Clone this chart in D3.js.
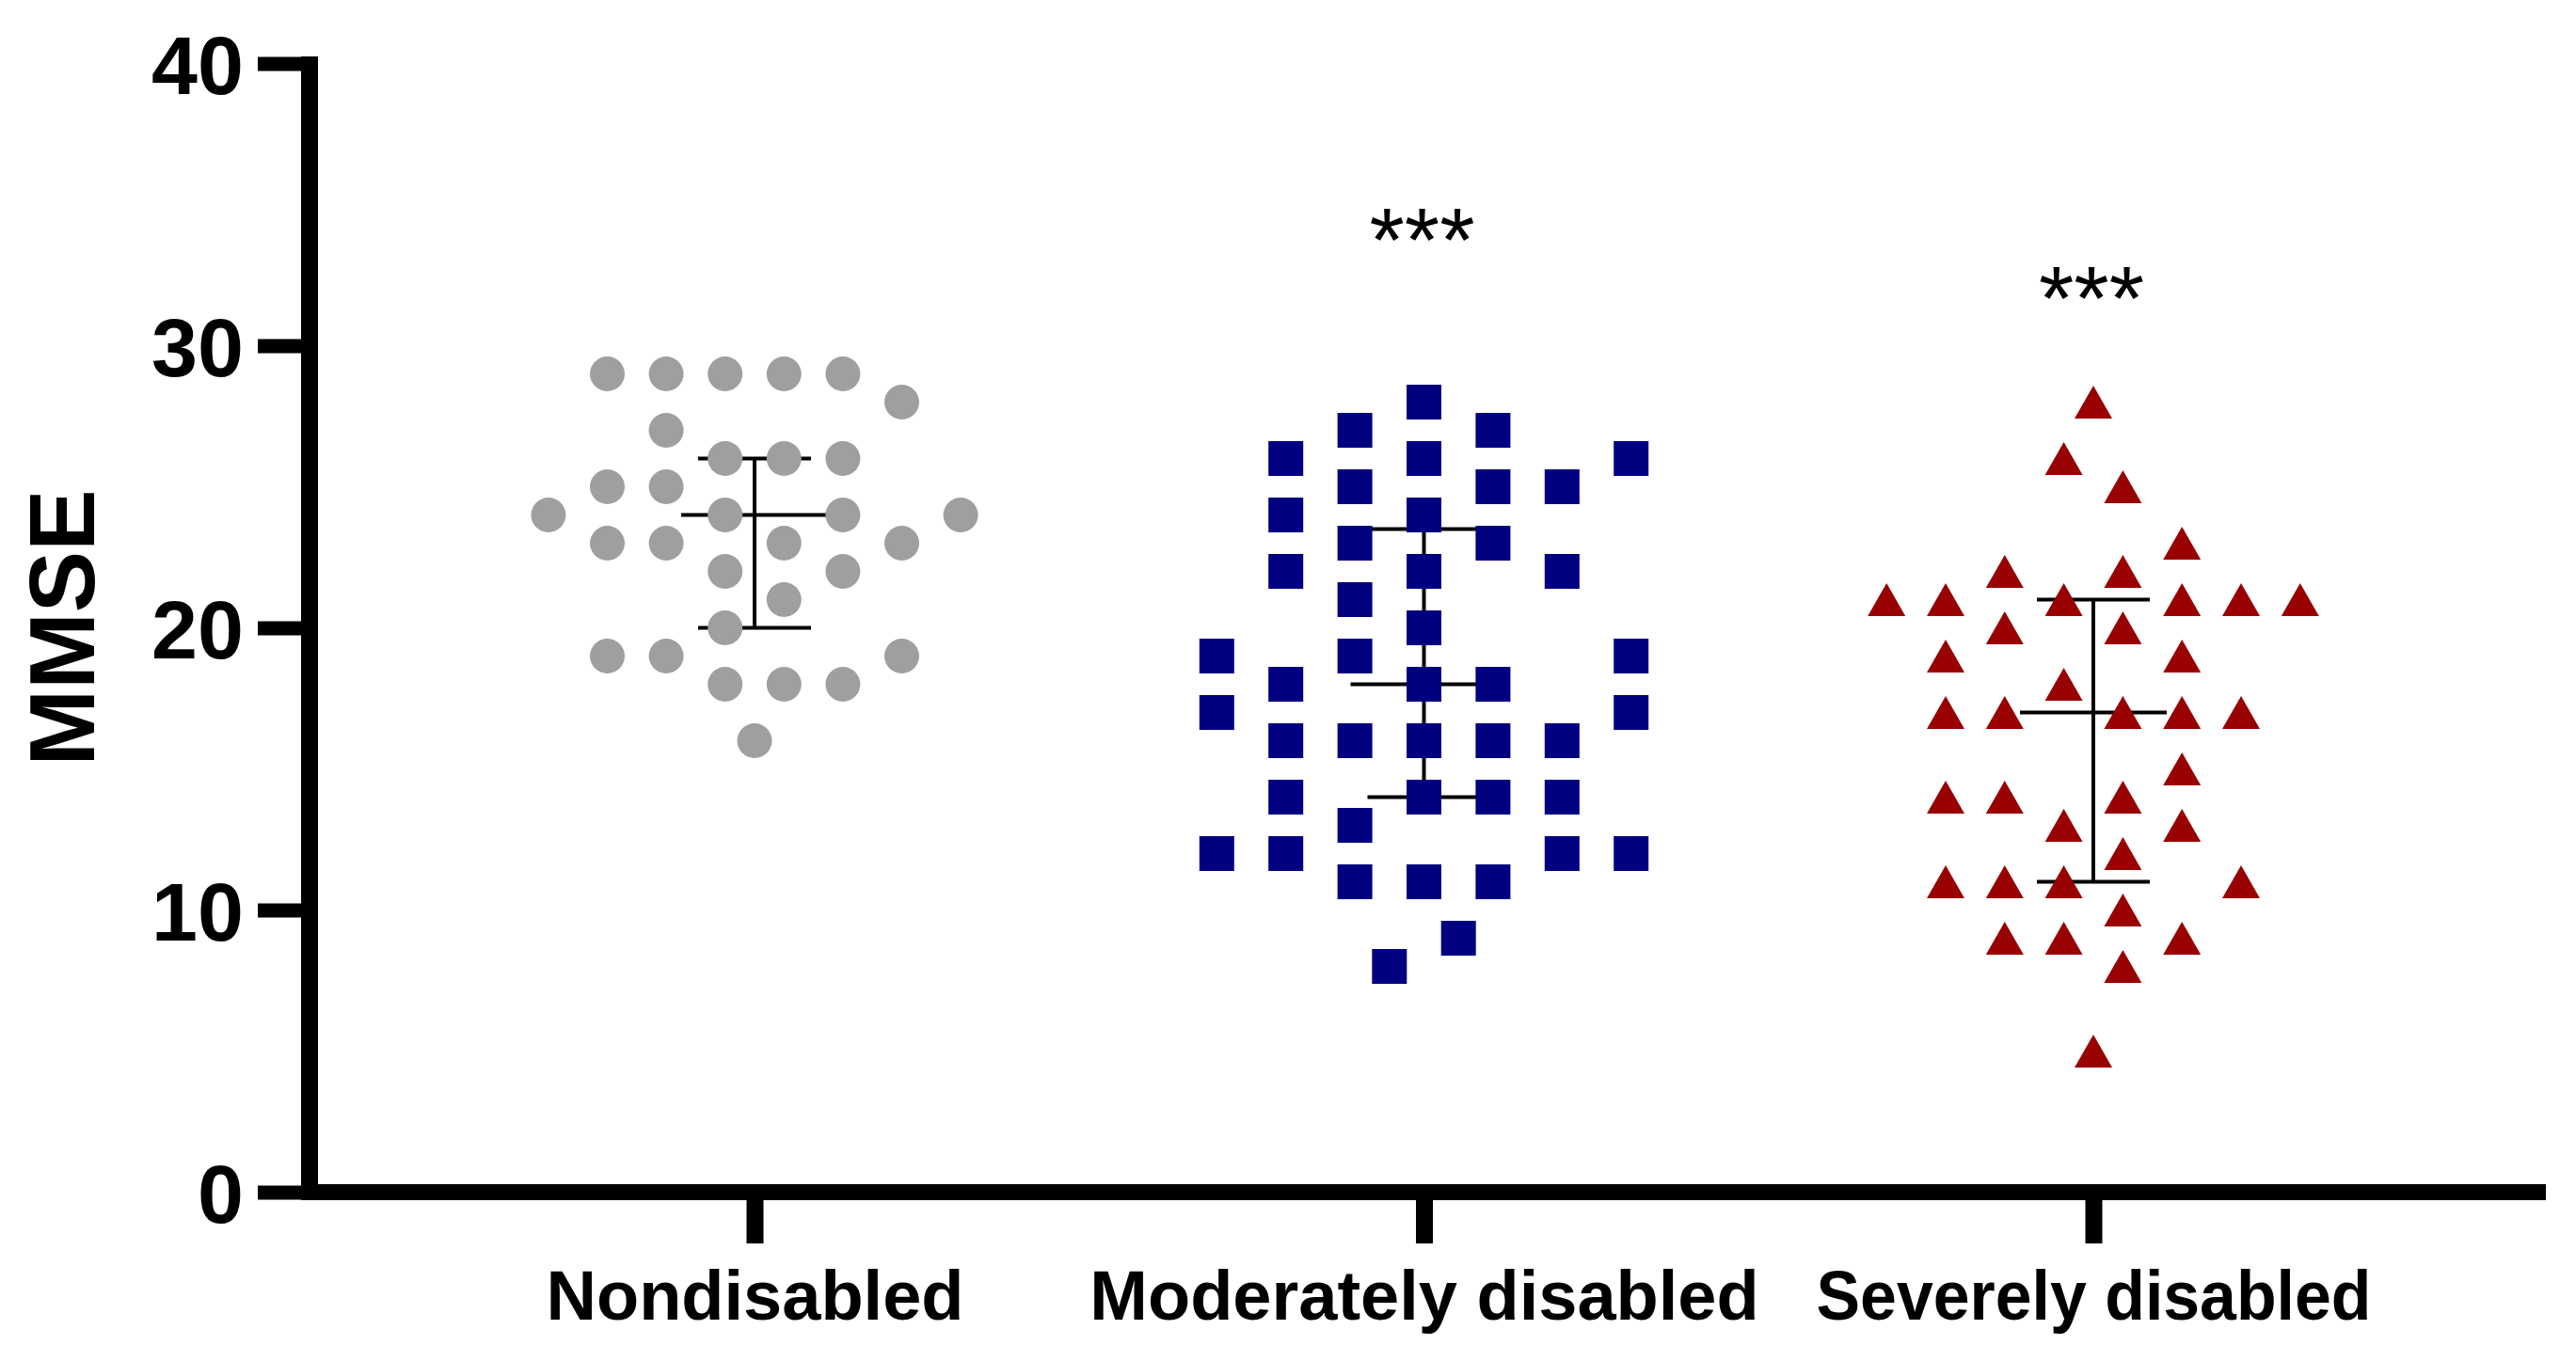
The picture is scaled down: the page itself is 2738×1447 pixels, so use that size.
<!DOCTYPE html>
<html>
<head>
<meta charset="utf-8">
<script src="https://cdn.jsdelivr.net/npm/d3@7"></script>
<style>
  body { margin: 0; background: #fff; }
  svg { display: block; }
  text { font-family: "Liberation Sans", Arial, sans-serif; }
</style>
</head>
<body>
<svg id="chart" width="2738" height="1447"></svg>
<script>
const groups = ["Nondisabled", "Moderately disabled", "Severely disabled"];

// [MMSE score, lane in the scatter column (half-lane units)]
const nondisabled = [
  [29, -5], [29, -3], [29, -1], [29, 1], [29, 3],
  [28, 5], [27, -3],
  [26, -1], [26, 1], [26, 3],
  [25, -5], [25, -3],
  [24, -7], [24, -1], [24, 3], [24, 7],
  [23, -5], [23, -3], [23, 1], [23, 5],
  [22, -1], [22, 3], [21, 1], [20, -1],
  [19, -5], [19, -3], [19, 5],
  [18, -1], [18, 1], [18, 3],
  [16, 0],
];
const moderately = [
  [28, 0], [27, -2], [27, 2],
  [26, -4], [26, 0], [26, 6],
  [25, -2], [25, 2], [25, 4],
  [24, -4], [24, 0], [23, -2], [23, 2],
  [22, -4], [22, 0], [22, 4],
  [21, -2], [20, 0],
  [19, -6], [19, -2], [19, 6],
  [18, -4], [18, 0], [18, 2],
  [17, -6], [17, 6],
  [16, -4], [16, -2], [16, 0], [16, 2], [16, 4],
  [14, -4], [14, 0], [14, 2], [14, 4],
  [13, -2],
  [12, -6], [12, -4], [12, 4], [12, 6],
  [11, -2], [11, 0], [11, 2],
  [9, 1], [8, -1],
];
const severely = [
  [28, 0], [26, -1], [25, 1], [23, 3],
  [22, -3], [22, 1],
  [21, -7], [21, -5], [21, -1], [21, 3], [21, 5], [21, 7],
  [20, -3], [20, 1],
  [19, -5], [19, 3],
  [18, -1],
  [17, -5], [17, -3], [17, 1], [17, 3], [17, 5],
  [15, 3],
  [14, -5], [14, -3], [14, 1],
  [13, -1], [13, 3],
  [12, 1],
  [11, -5], [11, -3], [11, -1], [11, 5],
  [10, 1],
  [9, -3], [9, -1], [9, 3],
  [8, 1],
  [5, 0],
];

// median with interquartile range
const medians = [24, 18, 17];
const lowerQ = [20, 14, 11];
const upperQ = [26, 23.5, 21];

const stars = ["", "***", "***"];
const starLevel = [null, 32.65, 30.6];

const yTicks = [0, 10, 20, 30, 40];

const MARKER_COLORS = ["#9f9f9f", "#000080", "#990000"];
const LANE = [31.3, 36.7, 31.4];
const LABEL_LEN = [null, null, 590]; // last label is set narrower in the original
const AXIS_W = 18;
const TICK_LEN = 46;

const svg = d3.select("#chart");

const y = d3.scaleLinear().domain([0, 40]).range([1267.5, 67.5]);
const x = d3.scalePoint().domain(groups).range([802, 2225]);

const AXIS_X = 320; // left edge of the y axis line
const AXIS_Y = 1276; // bottom edge of the x axis line

// y axis
const yAxis = svg.append("g")
  .attr("transform", `translate(${AXIS_X},0)`)
  .call(d3.axisLeft(y).tickValues(yTicks).tickSize(TICK_LEN).tickSizeOuter(0).tickPadding(15));
yAxis.select(".domain").remove();
yAxis.selectAll(".tick line").attr("stroke", "#000").attr("stroke-width", 15);
yAxis.selectAll(".tick text")
  .attr("fill", "#000")
  .attr("font-size", 88)
  .attr("font-weight", "bold")
  .attr("dy", "0.36em");

svg.append("line")
  .attr("x1", AXIS_X + AXIS_W / 2).attr("x2", AXIS_X + AXIS_W / 2)
  .attr("y1", y(40) - 7.5).attr("y2", AXIS_Y)
  .attr("stroke", "#000").attr("stroke-width", AXIS_W);

// x axis
const xAxis = svg.append("g")
  .attr("transform", `translate(0,${AXIS_Y})`)
  .call(d3.axisBottom(x).tickSize(TICK_LEN).tickSizeOuter(0));
xAxis.select(".domain").remove();
xAxis.selectAll(".tick line").attr("stroke", "#000").attr("stroke-width", 18);
xAxis.selectAll(".tick text")
  .attr("fill", "#000")
  .attr("font-size", 74)
  .attr("font-weight", "bold")
  .attr("y", 127)
  .attr("dy", null)
  .each(function (d, i) {
    if (LABEL_LEN[i]) {
      d3.select(this)
        .attr("textLength", LABEL_LEN[i])
        .attr("lengthAdjust", "spacingAndGlyphs");
    }
  });

svg.append("line")
  .attr("x1", AXIS_X).attr("x2", 2706)
  .attr("y1", AXIS_Y - 8.5).attr("y2", AXIS_Y - 8.5)
  .attr("stroke", "#000").attr("stroke-width", 17);

svg.append("text")
  .attr("transform", `translate(100,${y(20)}) rotate(-90)`)
  .attr("text-anchor", "middle")
  .attr("font-size", 98)
  .attr("font-weight", "bold")
  .text("MMSE");

// median + IQR bars (drawn under the markers)
const bars = svg.append("g")
  .attr("stroke", "#000")
  .attr("stroke-width", 4)
  .selectAll("g")
  .data(groups)
  .join("g");

bars.append("line")
  .attr("x1", (d) => x(d)).attr("x2", (d) => x(d))
  .attr("y1", (d, i) => y(upperQ[i])).attr("y2", (d, i) => y(lowerQ[i]));
bars.append("line")
  .attr("x1", (d) => x(d) - 78).attr("x2", (d) => x(d) + 78)
  .attr("y1", (d, i) => y(medians[i])).attr("y2", (d, i) => y(medians[i]));
bars.append("line")
  .attr("x1", (d) => x(d) - 60).attr("x2", (d) => x(d) + 60)
  .attr("y1", (d, i) => y(upperQ[i])).attr("y2", (d, i) => y(upperQ[i]));
bars.append("line")
  .attr("x1", (d) => x(d) - 60).attr("x2", (d) => x(d) + 60)
  .attr("y1", (d, i) => y(lowerQ[i])).attr("y2", (d, i) => y(lowerQ[i]));

// markers
function px(g, d) {
  const i = groups.indexOf(g);
  return x(g) + d[1] * LANE[i];
}

svg.append("g")
  .attr("fill", MARKER_COLORS[0])
  .selectAll("circle")
  .data(nondisabled)
  .join("circle")
  .attr("cx", (d) => px(groups[0], d))
  .attr("cy", (d) => y(d[0]))
  .attr("r", 18.5);

const SQ = 37;
svg.append("g")
  .attr("fill", MARKER_COLORS[1])
  .selectAll("rect")
  .data(moderately)
  .join("rect")
  .attr("x", (d) => px(groups[1], d) - SQ / 2)
  .attr("y", (d) => y(d[0]) - SQ / 2)
  .attr("width", SQ)
  .attr("height", SQ);

const TW = 40, TH = 35;
svg.append("g")
  .attr("fill", MARKER_COLORS[2])
  .selectAll("path")
  .data(severely)
  .join("path")
  .attr("transform", (d) => `translate(${px(groups[2], d)},${y(d[0])})`)
  .attr("d", `M0,${-TH / 2}L${TW / 2},${TH / 2}L${-TW / 2},${TH / 2}Z`);

// significance stars
svg.append("g")
  .selectAll("text")
  .data(groups.filter((g, i) => stars[i]))
  .join("text")
  .attr("x", (d) => x(d) - 2)
  .attr("y", (d) => y(starLevel[groups.indexOf(d)]))
  .attr("text-anchor", "middle")
  .attr("font-size", 96)
  .text((d) => stars[groups.indexOf(d)]);
</script>
</body>
</html>
